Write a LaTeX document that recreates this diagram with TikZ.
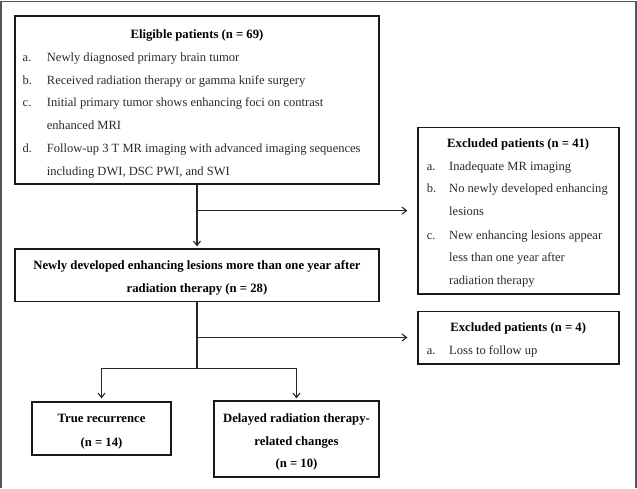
\documentclass[tikz,border=0pt]{standalone}
\usepackage{fontspec}
\setmainfont{Liberation Serif}
\usetikzlibrary{arrows.meta,fit}
\definecolor{framegray}{HTML}{555555}
\definecolor{txt}{HTML}{2A2A2A}
\tikzset{
  box/.style={draw=black!90, line width=1.6pt, inner sep=0pt},
  conn/.style={draw=black!85, line width=1.1pt},
  arr/.style={conn, -{Straight Barb[length=4.5pt,width=7pt,line width=1.1pt]}},
  ttl/.style={font=\fontsize{12.7}{14}\selectfont\bfseries, text=black, anchor=base, inner sep=0pt},
  lbl/.style={font=\fontsize{12.55}{14}\selectfont, text=txt, anchor=base west, inner sep=0pt},
}
\begin{document}
\begin{tikzpicture}[x=1pt,y=-1pt]
\useasboundingbox (0,0) rectangle (637,488);
\fill[white] (0,0) rectangle (637,488);
% outer frame (open at bottom)
\draw[framegray, line width=1.4pt] (1,488) -- (1,1.5) -- (636,1.5) -- (636,488);

% boxes
\node[box, fit={(15,16) (379,184)}] (elig) {};
\node[box, fit={(417.7,127.3) (618.7,294)}] (ex41) {};
\node[box, fit={(15,248.7) (379,301.3)}] (newly) {};
\node[box, fit={(417.7,311.3) (618.7,363.7)}] (ex4) {};
\node[box, fit={(32,401.7) (171,454.7)}] (true) {};
\node[box, fit={(214,400.7) (379,476.7)}] (delay) {};

% eligible texts
\node[ttl] (eT) at (197,38) {Eligible patients (n = 69)};
\node[lbl] (eAl) at (22.5,61) {a.};
\node[lbl] (eA) at (46.7,61) {Newly diagnosed primary brain tumor};
\node[lbl] (eBl) at (22.5,84) {b.};
\node[lbl] (eB) at (46.7,84) {Received radiation therapy or gamma knife surgery};
\node[lbl] (eCl) at (22.5,106) {c.};
\node[lbl] (eC) at (46.7,106) {Initial primary tumor shows enhancing foci on contrast};
\node[lbl] (eC2) at (46.7,129) {enhanced MRI};
\node[lbl] (eDl) at (22.5,152) {d.};
\node[lbl] (eD) at (46.7,152) {Follow-up 3 T MR imaging with advanced imaging sequences};
\node[lbl] (eD2) at (46.7,175) {including DWI, DSC PWI, and SWI};

% excluded 41
\node[ttl] (xT) at (518.2,147) {Excluded patients (n = 41)};
\node[lbl] (xAl) at (426.7,170.7) {a.};
\node[lbl] (xA) at (449,170.7) {Inadequate MR imaging};
\node[lbl] (xBl) at (426.7,192) {b.};
\node[lbl] (xB) at (449,192) {No newly developed enhancing};
\node[lbl] (xB2) at (449,215.7) {lesions};
\node[lbl] (xCl) at (426.7,239) {c.};
\node[lbl] (xC) at (449,239) {New enhancing lesions appear};
\node[lbl] (xC2) at (449,261) {less than one year after};
\node[lbl] (xC3) at (449,284) {radiation therapy};

% newly developed
\node[ttl] (nT1) at (197,269.7) {Newly developed enhancing lesions more than one year after};
\node[ttl] (nT2) at (197,292.3) {radiation therapy (n = 28)};

% excluded 4
\node[ttl] (yT) at (518.2,331.3) {Excluded patients (n = 4)};
\node[lbl] (yAl) at (426.7,354.7) {a.};
\node[lbl] (yA) at (449,354.7) {Loss to follow up};

% true recurrence
\node[ttl] (tT1) at (101.5,422.3) {True recurrence};
\node[ttl] (tT2) at (101.5,446.3) {(n = 14)};

% delayed
\node[ttl] (dT1) at (296.5,422.3) {Delayed radiation therapy-};
\node[ttl] (dT2) at (296.5,445) {related changes};
\node[ttl] (dT3) at (296.5,467.3) {(n = 10)};

% connectors
\coordinate (split) at (197,368.3);
\draw[arr, shorten >=1.5pt] (elig.south) -- (newly.north);
\draw[arr, shorten >=9.5pt] (elig.south |- ex41.west) -- (ex41.west);
\draw[conn] (newly.south) -- (split);
\draw[arr, shorten >=9.5pt] (newly.south |- ex4.west) -- (ex4.west);
\draw[arr, shorten >=2.5pt] (split) -| (true.north);
\draw[arr, shorten >=1.5pt] (split) -| (delay.north);
\end{tikzpicture}
\end{document}
